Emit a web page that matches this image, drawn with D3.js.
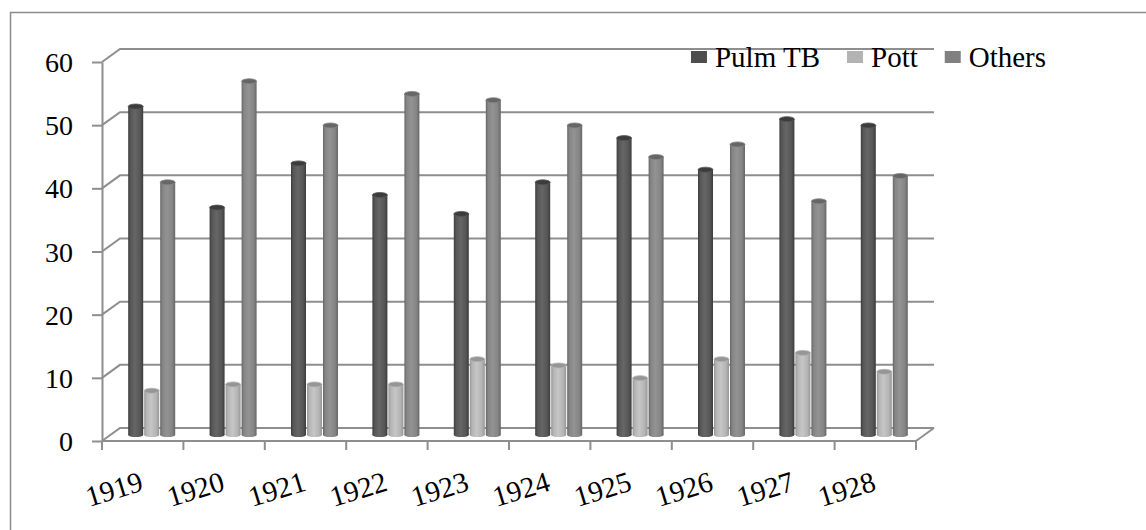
<!DOCTYPE html>
<html>
<head>
<meta charset="utf-8">
<script src="https://cdn.jsdelivr.net/npm/d3@7"></script>
<style>
  body { margin: 0; background: #fff; }
  svg { display: block; }
</style>
</head>
<body>
<svg id="chart"></svg>
<script>
const years = ['1919', '1920', '1921', '1922', '1923', '1924', '1925', '1926', '1927', '1928'];
const pulmTB = [52, 36, 43, 38, 35, 40, 47, 42, 50, 49];
const pott = [7, 8, 8, 8, 12, 11, 9, 12, 13, 10];
const others = [40, 56, 49, 54, 53, 49, 44, 46, 37, 41];
const seriesNames = ['Pulm TB', 'Pott', 'Others'];
const yTicks = [0, 10, 20, 30, 40, 50, 60];

const width = 1146;
const height = 530;
const depth = { dx: 18, dy: -13 };   // back wall offset
const mid = { dx: 9, dy: -6 };       // bars sit half way in
const serif = "'Liberation Serif'";

const svg = d3.select('#chart')
  .attr('width', width)
  .attr('height', height);

// chart frame (only top / left edges are in view)
svg.append('rect')
  .attr('x', 10.5).attr('y', 12.5)
  .attr('width', width).attr('height', height)
  .attr('fill', 'none')
  .attr('stroke', '#8c8c8c')
  .attr('stroke-width', 1.5);

const x = d3.scaleBand()
  .domain(years)
  .range([102, 916])
  .padding(0);

const y = d3.scaleLinear()
  .domain([0, 60])
  .range([441, 62]);

const series = d3.scaleBand()
  .domain(seriesNames)
  .range([-24, 24])
  .padding(0);

const shades = {
  'Pulm TB': { base: '#565656', light: '#666666', dark: '#3c3c3c', legend: '#4d4d4d' },
  'Pott': { base: '#b4b4b4', light: '#c6c6c6', dark: '#969696', legend: '#b3b3b3' },
  'Others': { base: '#858585', light: '#939393', dark: '#666666', legend: '#808080' }
};

const defs = svg.append('defs');
seriesNames.forEach((name, i) => {
  const c = shades[name];
  const grad = defs.append('linearGradient')
    .attr('id', `cyl${i}`)
    .attr('x1', '0%').attr('x2', '100%')
    .attr('y1', '0%').attr('y2', '0%');
  grad.append('stop').attr('offset', '0%').attr('stop-color', c.dark);
  grad.append('stop').attr('offset', '15%').attr('stop-color', c.base);
  grad.append('stop').attr('offset', '45%').attr('stop-color', c.light);
  grad.append('stop').attr('offset', '80%').attr('stop-color', c.base);
  grad.append('stop').attr('offset', '100%').attr('stop-color', c.dark);
});

const lineColor = '#8e8e8e';

// back wall gridlines with the diagonal up the side wall
const grid = svg.append('g');
yTicks.forEach(t => {
  grid.append('path')
    .attr('d', `M102,${y(t)}L${102 + depth.dx},${y(t) + depth.dy}L${916 + depth.dx},${y(t) + depth.dy}`)
    .attr('fill', 'none')
    .attr('stroke', lineColor)
    .attr('stroke-width', 2);
});
// right side of the floor
grid.append('path')
  .attr('d', `M916,${y(0)}L${916 + depth.dx},${y(0) + depth.dy}`)
  .attr('fill', 'none')
  .attr('stroke', lineColor)
  .attr('stroke-width', 2);

// bars as cylinders
const values = { 'Pulm TB': pulmTB, 'Pott': pott, 'Others': others };
const bars = svg.append('g');
years.forEach((yr, j) => {
  seriesNames.forEach((name, i) => {
    const v = values[name][j];
    const cx = x(yr) + x.bandwidth() / 2 + mid.dx + series(name) + series.bandwidth() / 2;
    const w = series.bandwidth() - 1;
    const top = y(v) + mid.dy;
    const bottom = y(0) + mid.dy;
    const g = bars.append('g');
    g.append('ellipse')
      .attr('cx', cx).attr('cy', bottom)
      .attr('rx', w / 2).attr('ry', 2)
      .attr('fill', `url(#cyl${i})`);
    g.append('rect')
      .attr('x', cx - w / 2).attr('y', top)
      .attr('width', w).attr('height', bottom - top)
      .attr('fill', `url(#cyl${i})`);
    g.append('ellipse')
      .attr('cx', cx).attr('cy', top)
      .attr('rx', w / 2).attr('ry', 2.5)
      .attr('fill', shades[name].dark)
      .attr('stroke', shades[name].base)
      .attr('stroke-width', 0.8);
  });
});

// front axes
const yAxis = svg.append('g')
  .attr('transform', 'translate(102,0)')
  .call(d3.axisLeft(y).tickValues(yTicks).tickSize(10).tickSizeOuter(0).tickPadding(19));
yAxis.select('.domain').attr('stroke', lineColor).attr('stroke-width', 2);
yAxis.selectAll('.tick line').attr('stroke', lineColor).attr('stroke-width', 2);
yAxis.selectAll('.tick text')
  .attr('dy', '0.34em')
  .style('font-family', serif)
  .style('font-size', '28px')
  .style('fill', '#000');

const xAxis = svg.append('g');
xAxis.append('line')
  .attr('x1', 102).attr('x2', 916)
  .attr('y1', y(0)).attr('y2', y(0))
  .attr('stroke', lineColor).attr('stroke-width', 2);
years.concat([null]).forEach(yr => {
  const tx = yr === null ? x.range()[1] : x(yr);
  xAxis.append('line')
    .attr('x1', tx).attr('x2', tx)
    .attr('y1', y(0)).attr('y2', y(0) + 9)
    .attr('stroke', lineColor).attr('stroke-width', 2);
});
years.forEach(yr => {
  const ax = x(yr) + x.bandwidth() / 2 + 2;
  const ay = 490;
  xAxis.append('text')
    .attr('transform', `translate(${ax},${ay}) rotate(-17)`)
    .attr('text-anchor', 'end')
    .style('font-family', serif)
    .style('font-size', '29px')
    .text(yr);
});

// legend, right-aligned so Pott's marker sits at 847
const legend = svg.append('g');
const items = seriesNames.map(name => {
  const t = legend.append('text')
    .style('font-family', serif)
    .style('font-size', '29px')
    .attr('y', 67)
    .text(name);
  return { name, t, len: t.node().getComputedTextLength() };
});
const markerW = 16, gap = 8, itemGap = 27;
let lx = 847 - (markerW + gap + items[0].len + itemGap);
items.forEach(it => {
  legend.append('rect')
    .attr('x', lx).attr('y', 51)
    .attr('width', markerW).attr('height', 12)
    .attr('fill', shades[it.name].legend);
  it.t.attr('x', lx + markerW + gap);
  lx += markerW + gap + it.len + itemGap;
});
</script>
</body>
</html>
